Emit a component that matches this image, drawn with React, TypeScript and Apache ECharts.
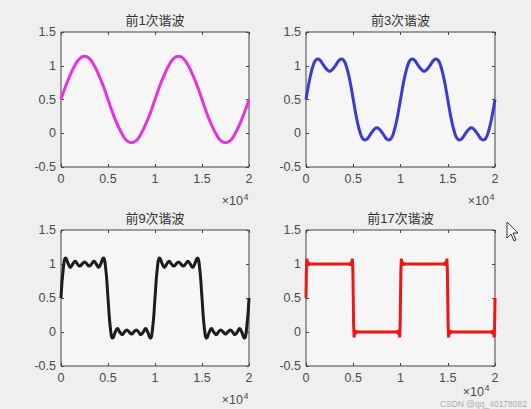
import React, { useEffect, useRef } from "react";
import * as echarts from "echarts";

// x positions (step 500) for the 1st-harmonic plot
const xs1 = [0, 500, 1000, 1500, 2000, 2500, 3000, 3500, 4000, 4500, 5000, 5500, 6000, 6500, 7000, 7500, 8000, 8500, 9000, 9500, 10000, 10500, 11000, 11500, 12000, 12500, 13000, 13500, 14000, 14500, 15000, 15500, 16000, 16500, 17000, 17500, 18000, 18500, 19000, 19500, 20000];
const ys1 = [0.5, 0.7, 0.87, 1.01, 1.11, 1.14, 1.11, 1.01, 0.87, 0.7, 0.5, 0.3, 0.13, -0.01, -0.11, -0.14, -0.11, -0.01, 0.13, 0.3, 0.5, 0.7, 0.87, 1.01, 1.11, 1.14, 1.11, 1.01, 0.87, 0.7, 0.5, 0.3, 0.13, -0.01, -0.11, -0.14, -0.11, -0.01, 0.13, 0.3, 0.5];

// x positions (step 250) for the 3rd and 9th harmonic plots
const xs250 = [0, 250, 500, 750, 1000, 1250, 1500, 1750, 2000, 2250, 2500, 2750, 3000, 3250, 3500, 3750, 4000, 4250, 4500, 4750, 5000, 5250, 5500, 5750, 6000, 6250, 6500, 6750, 7000, 7250, 7500, 7750, 8000, 8250, 8500, 8750, 9000, 9250, 9500, 9750, 10000, 10250, 10500, 10750, 11000, 11250, 11500, 11750, 12000, 12250, 12500, 12750, 13000, 13250, 13500, 13750, 14000, 14250, 14500, 14750, 15000, 15250, 15500, 15750, 16000, 16250, 16500, 16750, 17000, 17250, 17500, 17750, 18000, 18250, 18500, 18750, 19000, 19250, 19500, 19750, 20000];
const ys3 = [
  0.5, 0.7, 0.87, 1.0, 1.08, 1.1, 1.08, 1.03, 0.98, 0.94, 0.92, 0.94, 0.98, 1.03, 1.08, 1.1, 1.08, 1.0, 0.87, 0.7, 0.5,
  0.3, 0.13, 0.0, -0.08, -0.1, -0.08, -0.03, 0.02, 0.06, 0.08, 0.06, 0.02, -0.03, -0.08, -0.1, -0.08, 0.0, 0.13, 0.3, 0.5,
  0.7, 0.87, 1.0, 1.08, 1.1, 1.08, 1.03, 0.98, 0.94, 0.92, 0.94, 0.98, 1.03, 1.08, 1.1, 1.08, 1.0, 0.87, 0.7, 0.5,
  0.3, 0.13, 0.0, -0.08, -0.1, -0.08, -0.03, 0.02, 0.06, 0.08, 0.06, 0.02, -0.03, -0.08, -0.1, -0.08, 0.0, 0.13, 0.3, 0.5,
];
const ys9 = [
  0.5, 0.94, 1.09, 1.01, 0.95, 1.0, 1.04, 1.0, 0.97, 1.0, 1.03, 1.0, 0.97, 1.0, 1.04, 1.0, 0.95, 1.01, 1.09, 0.94, 0.5,
  0.06, -0.09, -0.01, 0.05, 0.0, -0.04, 0.0, 0.03, 0.0, -0.03, 0.0, 0.03, 0.0, -0.04, 0.0, 0.05, -0.01, -0.09, 0.06, 0.5,
  0.94, 1.09, 1.01, 0.95, 1.0, 1.04, 1.0, 0.97, 1.0, 1.03, 1.0, 0.97, 1.0, 1.04, 1.0, 0.95, 1.01, 1.09, 0.94, 0.5,
  0.06, -0.09, -0.01, 0.05, 0.0, -0.04, 0.0, 0.03, 0.0, -0.03, 0.0, 0.03, 0.0, -0.04, 0.0, 0.05, -0.01, -0.09, 0.06, 0.5,
];

// 17th harmonic plot: read at irregular x positions (edges are sharp)
const xs17 = [0, 40, 90, 150, 230, 330, 450, 4550, 4670, 4770, 4850, 4910, 4960, 5000, 5040, 5090, 5150, 5230, 5330, 5450, 9550, 9670, 9770, 9850, 9910, 9960, 10000, 10040, 10090, 10150, 10230, 10330, 10450, 14550, 14670, 14770, 14850, 14910, 14960, 15000, 15040, 15090, 15150, 15230, 15330, 15450, 19550, 19670, 19770, 19850, 19910, 19960, 20000];
const ys17 = [0.5, 0.9, 1.08, 0.97, 1.03, 0.99, 1.0, 1.0, 0.99, 1.03, 0.97, 1.08, 0.9, 0.5, 0.1, -0.08, 0.03, -0.03, 0.01, 0.0, 0.0, 0.01, -0.03, 0.03, -0.08, 0.1, 0.5, 0.9, 1.08, 0.97, 1.03, 0.99, 1.0, 1.0, 0.99, 1.03, 0.97, 1.08, 0.9, 0.5, 0.1, -0.08, 0.03, -0.03, 0.01, 0.0, 0.0, 0.01, -0.03, 0.03, -0.08, 0.1, 0.5];

const titles = ["前1次谐波", "前3次谐波", "前9次谐波", "前17次谐波"];
const colors = ["#e633e0", "#3a3ad6", "#1c1c1c", "#f01414"];
const yTickMin = -0.5;
const yTickMax = 1.5;
const yTickStep = 0.5;
const xTickMin = 0;
const xTickMax = 20000;
const xTickStep = 5000;
const xScale = 10000; // ×10^4
const expBase = "×10";
const expPower = "4";

const FONT = "'Liberation Sans', Arial, 'Noto Sans CJK SC', sans-serif";

const grids = [
  { left: 61, top: 32, width: 188, height: 135 },
  { left: 306, top: 32, width: 189, height: 135 },
  { left: 61, top: 230, width: 188, height: 136 },
  { left: 306, top: 230, width: 189, height: 136 },
];
const expOffsets = [34, 34, 34, 26];
const expShiftX = [0, 0, 0, -5];

function pairs(xs: number[], ys: number[]) {
  return xs.map((x, i) => [x, ys[i]]);
}

export default function App() {
  const ref = useRef<HTMLDivElement>(null);
  useEffect(() => {
    document.body.style.margin = "0";
    if (!ref.current) return;
    const chart = echarts.init(ref.current, null, { renderer: "svg" });
    const seriesData = [pairs(xs1, ys1), pairs(xs250, ys3), pairs(xs250, ys9), pairs(xs17, ys17)];
    const xAxis: any[] = [];
    const yAxis: any[] = [];
    const tick = { inside: true, length: 3, lineStyle: { color: "#444", width: 1 } };
    const noLine = { show: false, onZero: false };
    grids.forEach((_, i) => {
      xAxis.push({
        gridIndex: i, type: "value", position: "bottom", min: xTickMin, max: xTickMax, interval: xTickStep,
        axisLine: noLine, splitLine: { show: false }, axisTick: tick,
        axisLabel: { color: "#4a4a4a", fontSize: 12.5, margin: 6, fontFamily: FONT, formatter: (v: number) => String(v / xScale) },
      });
      xAxis.push({
        gridIndex: i, type: "value", position: "top", min: xTickMin, max: xTickMax, interval: xTickStep,
        axisLine: noLine, splitLine: { show: false }, axisTick: tick, axisLabel: { show: false },
      });
      yAxis.push({
        gridIndex: i, type: "value", position: "left", min: yTickMin, max: yTickMax, interval: yTickStep,
        axisLine: noLine, splitLine: { show: false }, axisTick: tick,
        axisLabel: { color: "#4a4a4a", fontSize: 12.5, margin: 5, fontFamily: FONT },
      });
      yAxis.push({
        gridIndex: i, type: "value", position: "right", min: yTickMin, max: yTickMax, interval: yTickStep,
        axisLine: noLine, splitLine: { show: false }, axisTick: tick, axisLabel: { show: false },
      });
    });
    const graphics: any[] = [];
    grids.forEach((g, i) => {
      graphics.push({
        type: "text", x: g.left + g.width / 2, y: g.top - 12,
        style: { text: titles[i], fill: "#333", font: `13px ${FONT}`, textAlign: "center", textVerticalAlign: "middle" },
      });
      const ey = g.top + g.height + expOffsets[i];
      const ex = g.left + g.width + expShiftX[i];
      graphics.push({
        type: "text", x: ex - 6, y: ey,
        style: { text: expBase, fill: "#4a4a4a", font: `12.5px ${FONT}`, textAlign: "right", textVerticalAlign: "middle" },
      });
      graphics.push({
        type: "text", x: ex - 5.5, y: ey - 4.5,
        style: { text: expPower, fill: "#4a4a4a", font: `9px ${FONT}`, textAlign: "left", textVerticalAlign: "middle" },
      });
    });
    graphics.push({
      type: "text", x: 527, y: 403.5,
      style: { text: "CSDN @qq_40178082", fill: "rgba(150,150,150,0.75)", font: `8.5px ${FONT}`, textAlign: "right", textVerticalAlign: "middle" },
    });
    graphics.push({
      type: "polygon",
      shape: { points: [[507, 222], [507, 238], [511, 234], [514, 241], [516, 240], [513, 233], [518, 233]] },
      style: { fill: "#fff", stroke: "#333", lineWidth: 1 },
    });
    chart.setOption({
      animation: false,
      backgroundColor: "#efefef",
      grid: grids.map((g) => ({ ...g, show: true, backgroundColor: "#f6f6f6", borderColor: "#444", borderWidth: 1 })),
      xAxis,
      yAxis,
      graphic: graphics,
      series: seriesData.map((d, i) => ({
        type: "line", xAxisIndex: i * 2, yAxisIndex: i * 2, data: d, showSymbol: false,
        smooth: i === 3 ? false : 0.5,
        lineStyle: { color: colors[i], width: 3 },
        silent: true,
      })),
    });
    return () => chart.dispose();
  }, []);
  return <div ref={ref} style={{ width: 531, height: 409 }} />;
}
